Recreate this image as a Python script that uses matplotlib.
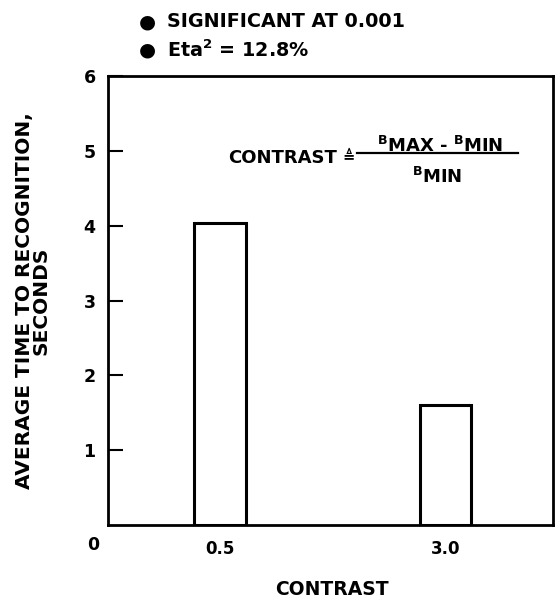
import numpy as np
import matplotlib.pyplot as plt
from matplotlib.lines import Line2D

# values
contrast_labels = ["0.5", "3.0"]
avg_time = [4.04, 1.60]
y_ticks = [1, 2, 3, 4, 5, 6]

plt.rcParams["font.family"] = ["DejaVu Sans"]
plt.rcParams["font.weight"] = "bold"
plt.rcParams["mathtext.fontset"] = "custom"
plt.rcParams["mathtext.rm"] = "DejaVu Sans:bold"
plt.rcParams["mathtext.it"] = "DejaVu Sans:bold"
plt.rcParams["mathtext.bf"] = "DejaVu Sans:bold"
plt.rcParams["mathtext.default"] = "rm"

W, H = 556, 599
fig = plt.figure(figsize=(W / 100, H / 100), dpi=100)
ax = fig.add_axes([108 / W, 1 - 525 / H, 445 / W, 449 / H])

x = np.arange(len(contrast_labels))
ax.bar(x, avg_time, width=0.228, facecolor="white", edgecolor="black", linewidth=2.2)

ax.set_xlim(-0.4967, 1.4767)
ax.set_ylim(0, 6)
ax.set_yticks(y_ticks)
ax.set_yticklabels([str(t) for t in y_ticks], fontsize=12.5, fontweight="bold")
ax.set_xticks(x)
ax.set_xticklabels(contrast_labels, fontsize=12, fontweight="bold")
ax.tick_params(axis="y", direction="in", length=11, width=1.5, pad=9)
ax.tick_params(axis="x", length=0, pad=11)
for s in ax.spines.values():
    s.set_linewidth(2.0)

# origin label sits below the corner, in the tick label column
fig.text(93 / W, 1 - 545 / H, "0", ha="center", va="center",
         fontsize=12.5, fontweight="bold")

ax.set_xlabel("CONTRAST", fontsize=13.5, fontweight="bold", va="center")
ax.xaxis.set_label_coords(0.503, -0.1437)
ax.set_ylabel("AVERAGE TIME TO RECOGNITION,\nSECONDS", fontsize=14.5,
              fontweight="bold", ha="center", va="center", linespacing=0.85)
ax.yaxis.set_label_coords(-0.1685, 0.5)

# notes above the plot
for yy, txt in [(21.5, "SIGNIFICANT AT 0.001"), (50, "Eta$^{2}$ = 12.8%")]:
    fig.text(147.5 / W, 1 - yy / H, "\u25cf", fontsize=14, ha="center", va="center")
    fig.text(167 / W, 1 - yy / H, txt, fontsize=13.8, fontweight="bold",
             ha="left", va="center")

# contrast definition
fig.text(228 / W, 1 - 158 / H, "CONTRAST", fontsize=13, fontweight="bold",
         ha="left", va="center")
fig.text(348.5 / W, 1 - 157 / H, "\u225c", fontsize=10.5, fontweight="bold",
         ha="center", va="center")
fig.text(440 / W, 1 - 146 / H, r"$^{B}$MAX - $^{B}$MIN", fontsize=13,
         fontweight="bold", ha="center", va="center")
fig.add_artist(Line2D([357 / W, 518 / W], [1 - 153 / H, 1 - 153 / H],
                      color="black", linewidth=1.6))
fig.text(437 / W, 1 - 177 / H, r"$^{B}$MIN", fontsize=13,
         fontweight="bold", ha="center", va="center")

fig.savefig("out.png", dpi=100)
